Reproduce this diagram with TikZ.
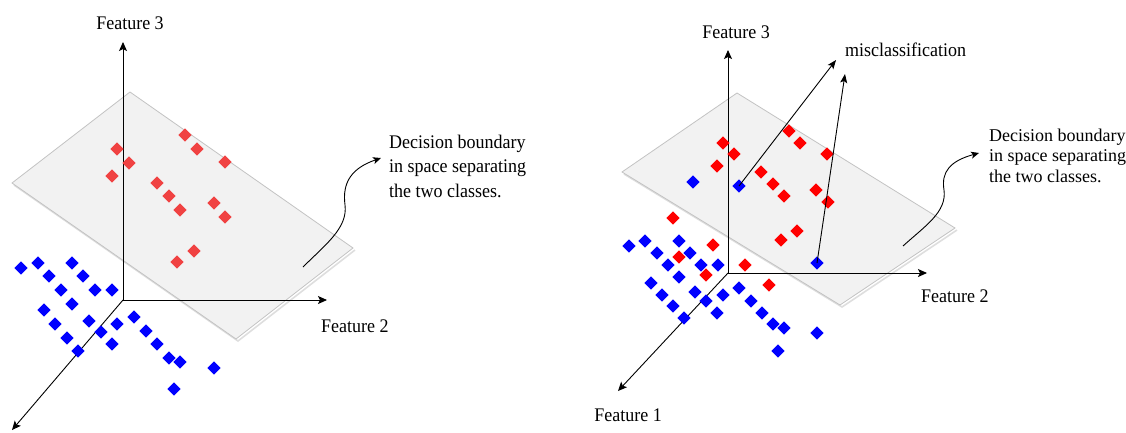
\documentclass[tikz,border=0pt]{standalone}
\usepackage{fontspec}
\usepackage{graphicx}
\setmainfont{Liberation Serif}
\usetikzlibrary{shapes.geometric,arrows.meta}
\definecolor{planefill}{RGB}{242,242,242}
\definecolor{planeedge}{RGB}{195,195,195}
\definecolor{planeshadow}{RGB}{222,222,222}
\definecolor{redL}{RGB}{240,66,66}
\newcommand{\vstretch}[1]{\scalebox{1}[1.07]{#1}}
\begin{document}
\begin{tikzpicture}[x=1pt,y=-1pt,
  axis/.style={line width=0.9pt,-{Stealth[length=9pt,width=8pt,inset=2pt]}},
  plane/.style={fill=planefill,draw=planeedge,line width=0.8pt},
  planeshd/.style={draw=planeshadow,line width=1.6pt},
  dia/.style={diamond,inner sep=0pt,minimum size=13.5pt},
  redl/.style={dia,fill=redL},
  redr/.style={dia,fill=red},
  blu/.style={dia,fill=blue},
  lab/.style={font=\fontsize{18}{24.5}\selectfont,inner sep=0pt},
  curvy/.style={line width=0.9pt,-{Stealth[length=8pt,width=7pt,inset=2pt]}},
  misarrow/.style={line width=0.9pt,-{Stealth[length=9pt,width=7pt,inset=2pt]}}
]
\useasboundingbox (0,0) rectangle (1126,432);

% ================= LEFT PANEL =================
\coordinate (lO) at (123,300);
\coordinate (lZ) at (123,42);
\coordinate (lY) at (327,300);
\coordinate (lX) at (12,430);
% plane
\draw[planeshd] (355,250) -- (238,341) -- (14,185);
\draw[plane] (130,92) -- (353,248) -- (236,339) -- (12,183) -- cycle;
% axes
\draw[axis] (lO) -- (lZ);
\draw[axis] (lO) -- (lY);
\draw[axis] (lO) -- (lX);
\node[lab,anchor=base] (lf3) at (130,29) {\vstretch{Feature 3}};
\node[lab,anchor=base west] (lf2) at (321,332) {\vstretch{Feature 2}};
% red points
\foreach \x/\y [count=\i] in {185/135,197/149,225/162,117/149,129/163,112/176,157/183,169/196,180/210,214/203,225/217,194/251,177/262}
  \node[redl] (lr\i) at (\x,\y) {};
% blue points
\foreach \x/\y [count=\i] in {21/268,38/263,49/276,72/263,83/276,61/290,95/290,112/290,72/304,44/310,55/324,89/321,101/332,117/324,134/317,146/331,67/338,112/344,78/351,157/344,169/358,180/362,214/368,174/389}
  \node[blu] (lb\i) at (\x,\y) {};
% decision label + curved arrow
\node[lab,anchor=base west,font=\fontsize{18}{22.9}\selectfont] (ldec) at (389,148) {\vstretch{\begin{tabular}[t]{@{}l@{}}Decision boundary\\in space separating\\the two classes.\end{tabular}}};
\coordinate (lcs) at (303,267);
\coordinate (lce) at (381,158);
\draw[curvy] (lcs) .. controls (325,245) and (348,228) .. (345,205) .. controls (342,182) and (352,168) .. (lce);

% ================= RIGHT PANEL =================
\coordinate (rO) at (728,273);
\coordinate (rZ) at (728,50);
\coordinate (rY) at (927,273);
\coordinate (rX) at (618,391);
\draw[planeshd] (957,230) -- (842,307) -- (624,174);
\draw[plane] (737,93) -- (955,228) -- (840,305) -- (622,172) -- cycle;
\draw[axis] (rO) -- (rZ);
\draw[axis] (rO) -- (rY);
\draw[axis] (rO) -- (rX);
\node[lab,anchor=base] (rf3) at (736,38) {\vstretch{Feature 3}};
\node[lab,anchor=base west] (rf2) at (921,302) {\vstretch{Feature 2}};
\node[lab,anchor=base] (rf1) at (628,421) {\vstretch{Feature 1}};
% red points
\foreach \x/\y [count=\i] in {789/131,800/143,827/154,723/143,734/154,717/166,761/172,773/184,784/196,816/190,828/202,797/231,781/240,673/218,713/245,679/257,745/265,706/275,769/285}
  \node[redr] (rr\i) at (\x,\y) {};
% blue points
\foreach \x/\y [count=\i] in {693/182,629/246,645/241,679/241,657/253,690/253,668/265,701/265,718/265,679/277,651/283,695/292,739/288,662/295,723/295,706/301,751/301,673/306,717/313,762/313,684/318,773/324,784/328,817/333,778/351}
  \node[blu] (rb\i) at (\x,\y) {};
\node[blu] (mis1) at (739,186) {};
\node[blu] (mis2) at (817,263) {};
% misclassification
\node[lab,anchor=base west] (misl) at (845,56) {\vstretch{misclassification}};
\coordinate (m1) at (836,60);
\coordinate (m2) at (845,74);
\draw[misarrow] (mis1.center) -- (m1);
\draw[misarrow] (mis2.center) -- (m2);
% decision label + curved arrow
\node[lab,anchor=base west,font=\fontsize{18}{20.5}\selectfont] (rdec) at (989,141) {\begin{tabular}[t]{@{}l@{}}Decision boundary\\in space separating\\the two classes.\end{tabular}};
\coordinate (rcs) at (903,246);
\coordinate (rce) at (979,153);
\draw[curvy] (rcs) .. controls (925,226) and (947,212) .. (944,190) .. controls (941,172) and (950,161) .. (rce);
\end{tikzpicture}
\end{document}
